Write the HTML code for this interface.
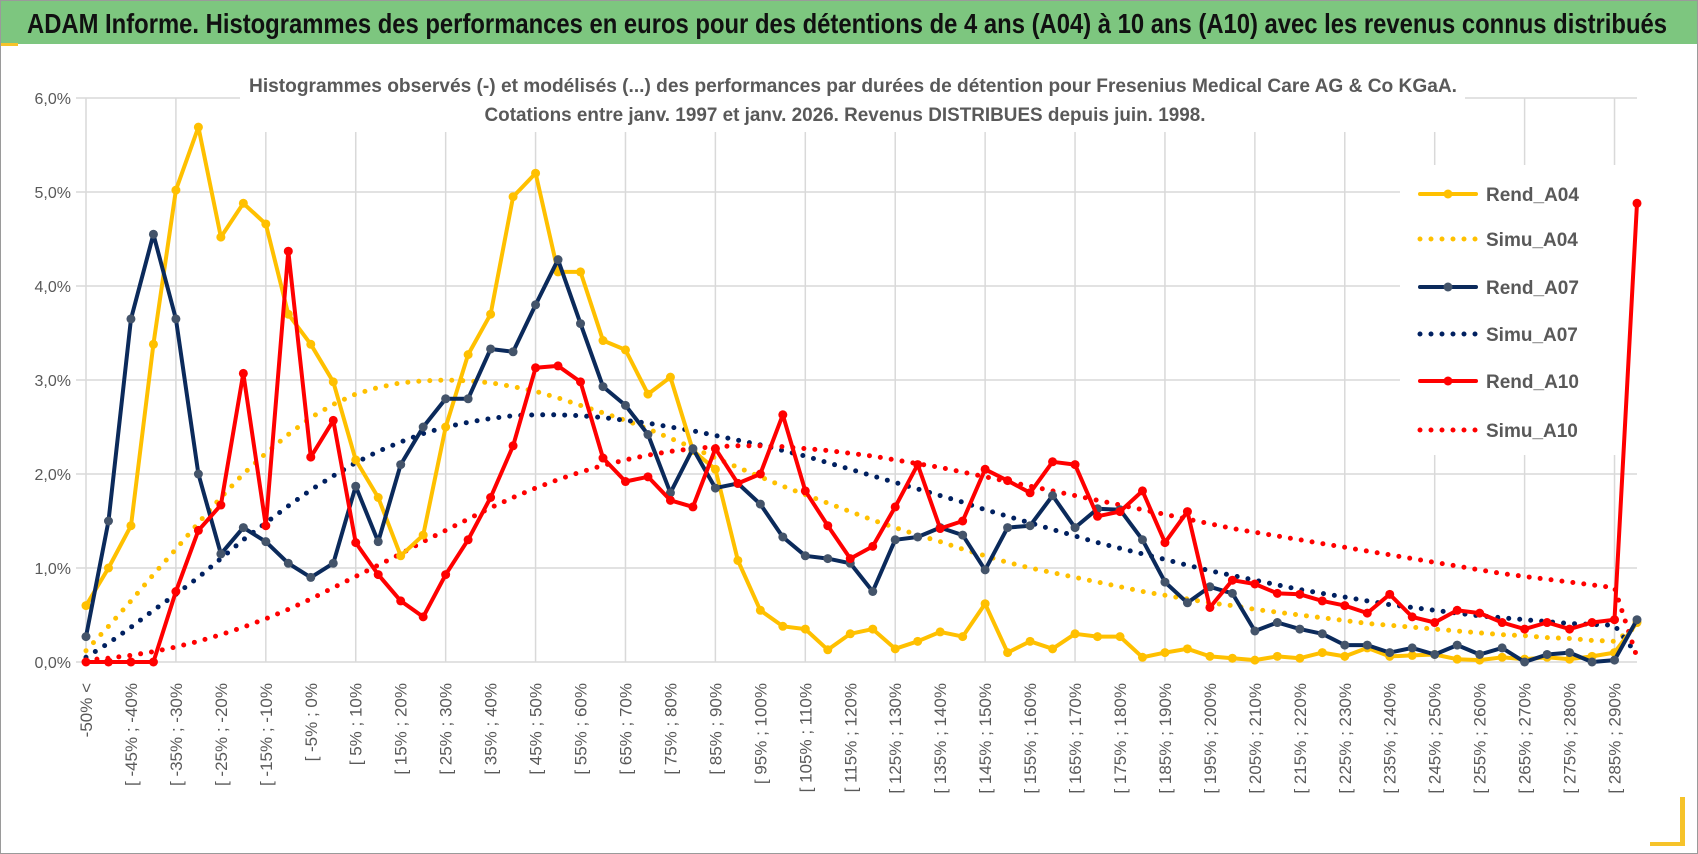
<!DOCTYPE html>
<html><head><meta charset="utf-8"><style>
html,body{margin:0;padding:0;background:#fff}
svg{display:block}
text{font-family:"Liberation Sans",sans-serif}
</style></head><body>
<svg id="chart" width="1698" height="854" viewBox="0 0 1698 854" xmlns="http://www.w3.org/2000/svg">
<rect x="0.5" y="0.5" width="1697" height="853" fill="#fff" stroke="#9a9a9a"/>
<rect x="1" y="1" width="1696" height="43" fill="#7dc67f"/>
<rect x="1" y="43" width="17" height="3" fill="#f6c32a"/>
<text x="27" y="33" font-size="28" font-weight="bold" fill="#111" textLength="1640" lengthAdjust="spacingAndGlyphs">ADAM Informe. Histogrammes des performances en euros pour des détentions de 4 ans (A04) à 10 ans (A10) avec les revenus connus distribués</text>
<rect x="1680" y="797" width="5" height="48" fill="#f6c32a"/>
<rect x="1650" y="842" width="35" height="4" fill="#f6c32a"/>
<g id="grid"></g>
<g id="ylabels"></g>
<g id="xlabels"></g>
<rect x="240" y="68" width="1225" height="64" fill="#fff"/>
<text x="853" y="92" text-anchor="middle" font-size="19" font-weight="bold" fill="#595959" textLength="1208" lengthAdjust="spacingAndGlyphs">Histogrammes observés (-) et modélisés (...) des performances par durées de détention pour Fresenius Medical Care AG &amp; Co KGaA.</text>
<text x="845" y="121" text-anchor="middle" font-size="19" font-weight="bold" fill="#595959" textLength="721" lengthAdjust="spacingAndGlyphs">Cotations entre janv. 1997 et janv. 2026. Revenus DISTRIBUES depuis juin. 1998.</text>
<rect x="1400" y="165" width="290" height="290" fill="#fff"/>
<g id="series"></g>
<g id="legend"></g>
</svg>
<script>
const categories = ["-50% <"];
for (let k = 0; k < 68; k++) { categories.push("[ " + (-50 + 5 * k) + "% ; " + (-45 + 5 * k) + "%"); }
categories.push("290% <");
const yTicks = [0, 1, 2, 3, 4, 5, 6];
const yTickLabels = ["0,0%", "1,0%", "2,0%", "3,0%", "4,0%", "5,0%", "6,0%"];
const rendA04 = [0.6,1.0,1.45,3.38,5.02,5.69,4.52,4.88,4.66,3.7,3.38,2.98,2.15,1.75,1.13,1.35,2.5,3.27,3.7,4.95,5.2,4.15,4.15,3.42,3.32,2.85,3.03,2.25,2.05,1.08,0.55,0.38,0.35,0.13,0.3,0.35,0.14,0.22,0.32,0.27,0.62,0.1,0.22,0.14,0.3,0.27,0.27,0.05,0.1,0.14,0.06,0.04,0.02,0.06,0.04,0.1,0.06,0.15,0.06,0.07,0.08,0.03,0.02,0.05,0.03,0.05,0.03,0.06,0.1,0.42];
const rendA07 = [0.27,1.5,3.65,4.55,3.65,2.0,1.15,1.43,1.28,1.05,0.9,1.05,1.87,1.28,2.1,2.5,2.8,2.8,3.33,3.3,3.8,4.28,3.6,2.93,2.73,2.42,1.8,2.27,1.85,1.9,1.68,1.33,1.13,1.1,1.05,0.75,1.3,1.33,1.43,1.35,0.98,1.43,1.45,1.77,1.43,1.63,1.62,1.3,0.85,0.63,0.8,0.73,0.33,0.42,0.35,0.3,0.18,0.18,0.1,0.15,0.08,0.18,0.08,0.15,0.0,0.08,0.1,0.0,0.02,0.45];
const rendA10 = [0,0,0,0,0.75,1.4,1.67,3.07,1.45,4.37,2.18,2.57,1.27,0.93,0.65,0.48,0.93,1.3,1.75,2.3,3.13,3.15,2.98,2.17,1.92,1.97,1.72,1.65,2.27,1.9,2.0,2.63,1.82,1.45,1.1,1.23,1.65,2.1,1.42,1.5,2.05,1.93,1.8,2.13,2.1,1.55,1.6,1.82,1.27,1.6,0.58,0.87,0.83,0.73,0.72,0.65,0.6,0.52,0.72,0.48,0.42,0.55,0.52,0.42,0.35,0.42,0.35,0.42,0.45,4.88];
const simuA04 = [0.12,0.38,0.65,0.93,1.2,1.48,1.75,2.0,2.22,2.42,2.6,2.74,2.85,2.92,2.97,2.99,3.0,2.99,2.97,2.93,2.88,2.81,2.73,2.65,2.57,2.48,2.38,2.28,2.17,2.07,1.97,1.87,1.78,1.69,1.6,1.51,1.43,1.35,1.28,1.2,1.13,1.06,1.0,0.95,0.9,0.85,0.8,0.75,0.71,0.67,0.63,0.6,0.56,0.53,0.5,0.47,0.44,0.41,0.39,0.37,0.35,0.33,0.31,0.29,0.28,0.26,0.25,0.23,0.22,0.38];
const simuA07 = [0.05,0.2,0.37,0.55,0.72,0.9,1.1,1.3,1.48,1.66,1.83,1.98,2.12,2.24,2.34,2.43,2.5,2.55,2.59,2.62,2.63,2.63,2.62,2.6,2.57,2.54,2.5,2.46,2.41,2.36,2.31,2.25,2.19,2.12,2.05,1.98,1.91,1.84,1.77,1.7,1.62,1.55,1.48,1.41,1.34,1.27,1.21,1.15,1.09,1.03,0.97,0.92,0.87,0.82,0.77,0.73,0.69,0.65,0.61,0.58,0.55,0.52,0.49,0.47,0.45,0.43,0.41,0.4,0.39,0.08];
const simuA10 = [0.02,0.04,0.07,0.11,0.16,0.22,0.29,0.37,0.46,0.56,0.67,0.79,0.91,1.03,1.15,1.28,1.4,1.52,1.64,1.75,1.85,1.94,2.02,2.09,2.15,2.2,2.24,2.27,2.29,2.3,2.3,2.29,2.27,2.25,2.22,2.19,2.15,2.11,2.07,2.02,1.97,1.92,1.87,1.82,1.77,1.72,1.67,1.62,1.57,1.52,1.47,1.42,1.38,1.34,1.3,1.26,1.22,1.18,1.14,1.1,1.06,1.02,0.98,0.94,0.91,0.88,0.85,0.82,0.79,0.05];
const seriesNames = ["Rend_A04", "Simu_A04", "Rend_A07", "Simu_A07", "Rend_A10", "Simu_A10"];

const NS = "http://www.w3.org/2000/svg";
const X0 = 86, X1 = 1637, Y0 = 662, PX_PER_PCT = 94;
function xScale(i) { return X0 + i * (X1 - X0) / (categories.length - 1); }
function yScale(v) { return Y0 - v * PX_PER_PCT; }
function mk(tag, attrs, parent) { const e = document.createElementNS(NS, tag); for (const k in attrs) e.setAttribute(k, attrs[k]); parent.appendChild(e); return e; }

const grid = document.getElementById("grid");
yTicks.forEach(t => {
  const l = mk("line", {x1: X0 - 10, x2: X1, y1: yScale(t), y2: yScale(t), stroke: "#d9d9d9", "stroke-width": 1.5}, grid);
  
  
});
for (let i = 0; i < categories.length - 1; i += 4) {
  const l = mk("line", {x1: xScale(i), x2: xScale(i), y1: yScale(6), y2: Y0, stroke: "#d9d9d9", "stroke-width": 1.5}, grid);
  
  
}
const yl = document.getElementById("ylabels");
yTicks.forEach((t, k) => {
  const tx = mk("text", {x: 71, y: yScale(t) + 6, "text-anchor": "end", "font-size": 16, fill: "#595959"}, yl);
  tx.textContent = yTickLabels[k];
  
  
});
const xl = document.getElementById("xlabels");
for (let i = 0; i < categories.length; i += 2) {
  const x = xScale(i) + 6;
  const tx = mk("text", {x: x, y: 683, "text-anchor": "end", "font-size": 17, fill: "#595959", transform: "rotate(-90 " + x + " 683)"}, xl);
  tx.textContent = categories[i];
  
  
}

const series = document.getElementById("series");
function pts(arr) { return arr.map((v, i) => xScale(i).toFixed(1) + "," + yScale(v).toFixed(1)).join(" "); }
function dotted(arr, color, name) {
  const p = mk("polyline", {points: pts(arr), fill: "none", stroke: color, "stroke-width": 5, "stroke-linecap": "round", "stroke-dasharray": "0 11"}, series);
  
  
}
function solid(arr, color, mcolor, name) {
  const p = mk("polyline", {points: pts(arr), fill: "none", stroke: color, "stroke-width": 4, "stroke-linejoin": "round"}, series);
  
  
  arr.forEach((v, i) => {
    const c = mk("circle", {cx: xScale(i), cy: yScale(v), r: 4.5, fill: mcolor}, series);
    
    
  });
}
dotted(simuA04, "#ffc000", "simu-a04-line");
dotted(simuA07, "#002060", "simu-a07-line");
dotted(simuA10, "#ff0000", "simu-a10-line");
solid(rendA04, "#ffc000", "#ffc000", "rend-a04-line");
solid(rendA07, "#0b2a5b", "#44546a", "rend-a07-line");
solid(rendA10, "#ff0000", "#ff0000", "rend-a10-line");

const legend = document.getElementById("legend");
const legColors = ["#ffc000", "#ffc000", "#0b2a5b", "#002060", "#ff0000", "#ff0000"];
const legY = [194, 239, 287, 334, 381, 430];
seriesNames.forEach((n, k) => {
  const y = legY[k];
  const isDot = n.indexOf("Simu") === 0;
  const l = mk("line", {x1: 1420, x2: 1476, y1: y, y2: y, stroke: legColors[k], "stroke-width": isDot ? 5 : 4, "stroke-linecap": "round", "stroke-dasharray": isDot ? "0 11" : "none"}, legend);
  
  
  if (!isDot) {
    const c = mk("circle", {cx: 1448, cy: y, r: 4.5, fill: k === 2 ? "#44546a" : legColors[k]}, legend);
    
    
  }
  const t = mk("text", {x: 1486, y: y + 7, "font-size": 19, "font-weight": "bold", fill: "#595959"}, legend);
  t.textContent = n;
  
  
});
</script>
</body></html>
